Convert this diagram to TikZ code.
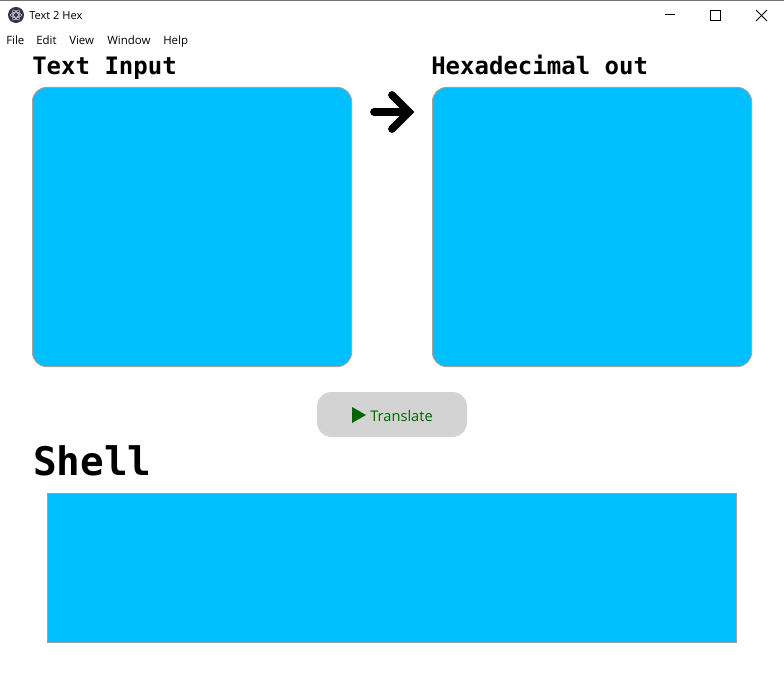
\documentclass[tikz,border=0pt]{standalone}
\usepackage{xcolor}
\usepackage{fontspec}
\setmainfont{Open Sans}
\newfontfamily\monofont{DejaVu Sans Mono}
\usepackage{tikz}
\usetikzlibrary{arrows.meta, calc, positioning, shapes.geometric}

\definecolor{panelblue}{HTML}{00BFFF}
\definecolor{panelgray}{HTML}{A0A0A0}
\definecolor{buttongray}{HTML}{D3D3D3}
\definecolor{buttongreen}{HTML}{006400}
\definecolor{icondark}{HTML}{2F3242}

\tikzset{
  menuitem/.style={anchor=base west, inner sep=0pt, font=\fontsize{8.6}{11}\selectfont},
  heading/.style={anchor=base west, inner sep=0pt, font=\monofont\bfseries\fontsize{18}{22}\selectfont},
  panel/.style={draw=panelgray, fill=panelblue, line width=0.75pt, rounded corners=10.5pt,
    minimum width=239.25pt, minimum height=209.25pt, inner sep=0pt},
}

\begin{document}
\begin{tikzpicture}[x=0.75pt, y=-0.75pt]
\useasboundingbox (0,0) rectangle (784,673);

% Title bar
\fill[white] (0,0) rectangle (784,673);
\fill[black!55] (0,0) rectangle (784,1);
\fill[icondark] (16,15) circle (8);
\draw[white!75!icondark, line width=0.4pt] (16,15) circle (3.5);
\draw[white!75!icondark, line width=0.4pt] (16,15) ellipse [x radius=6, y radius=2.2];
\draw[white!75!icondark, line width=0.4pt, rotate around={60:(16,15)}] (16,15) ellipse [x radius=6, y radius=2.2];
\draw[white!75!icondark, line width=0.4pt, rotate around={-60:(16,15)}] (16,15) ellipse [x radius=6, y radius=2.2];
\node[menuitem, font=\fontsize{8.3}{11}\selectfont] (title) at (29,20) {Text 2 Hex};

% Window buttons
\draw[black, line width=0.75pt] (665,15) -- (675,15);
\draw[black, line width=0.75pt] (710.5,10.5) rectangle (720.5,20.5);
\draw[black, line width=0.6pt] (756,10) -- (767,21);
\draw[black, line width=0.6pt] (767,10) -- (756,21);

% Menu bar
\node[menuitem] (filemenu) at (6,45) {File};
\node[menuitem] (editmenu) at (36,45) {Edit};
\node[menuitem] (viewmenu) at (69,45) {View};
\node[menuitem] (windowmenu) at (107,45) {Window};
\node[menuitem] (helpmenu) at (163,45) {Help};

% Input and output panels
\node[heading] (inputlabel) at (32,74.5) {Text Input};
\node[heading] (outputlabel) at (431,74.5) {Hexadecimal out};
\node[panel] (inputpanel) at (192,227) {};
\node[panel] (outputpanel) at (592,227) {};

% Arrow between panels
\coordinate (arrowtail) at (374,112);
\coordinate (arrowtip) at (409,112);
\coordinate (arrowup) at (392,95);
\coordinate (arrowdown) at (392,129);
\draw[black, line width=5.8pt, line cap=round, line join=round] (arrowtail) -- (arrowtip);
\draw[black, line width=5.8pt, line cap=round, line join=miter] (arrowup) -- (arrowtip) -- (arrowdown);

% Translate button
\node[fill=buttongray, rounded corners=11pt, minimum width=112.5pt, minimum height=33.75pt, inner sep=0pt] (translatebtn) at (392,414.5) {};
\fill[buttongreen] (352,407) -- (366,415) -- (352,423) -- cycle;
\node[anchor=base west, inner sep=0pt, text=buttongreen, font=\fontsize{11}{14}\selectfont] (translatelabel) at (370,421) {Translate};

% Shell
\node[heading, font=\monofont\bfseries\fontsize{29.5}{34}\selectfont] (shelllabel) at (33,475) {Shell};
\node[draw=panelgray, fill=panelblue, line width=0.75pt, minimum width=516.75pt, minimum height=111.4pt, inner sep=0pt] (shellpanel) at (392,567.75) {};

\end{tikzpicture}
\end{document}
